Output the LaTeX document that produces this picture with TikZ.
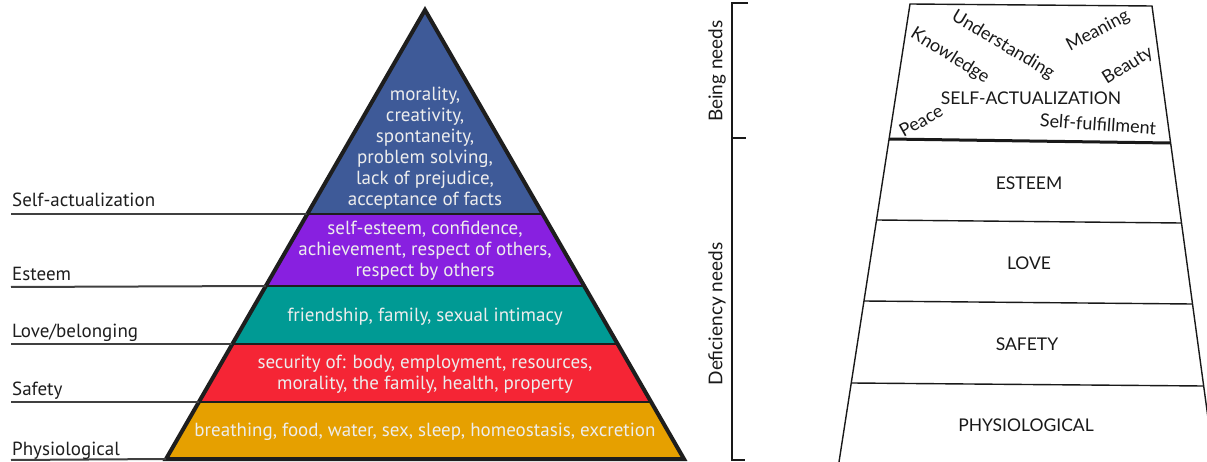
\documentclass[tikz,border=0pt]{standalone}
\usepackage{fontspec}
\setmainfont{PT Sans}
\newfontfamily\rfont{Lato}
\usetikzlibrary{calc}
\definecolor{cblue}{HTML}{3E5A98}
\definecolor{cpurple}{HTML}{8820E0}
\definecolor{cteal}{HTML}{009A94}
\definecolor{cred}{HTML}{F52535}
\definecolor{corange}{HTML}{E6A000}
\definecolor{ctext}{HTML}{EDEDED}
\definecolor{cdark}{HTML}{1E1E1E}
\begin{document}
\begin{tikzpicture}[x=1pt,y=-1pt,
  bandline/.style={draw=cdark, line width=1.6pt},
  outline/.style={draw=cdark, line width=4pt, line join=miter},
  bandtext/.style={text=ctext, font=\fontsize{19}{21}\selectfont, align=center, inner sep=0pt},
  lvl/.style={font=\fontsize{19}{21}\selectfont, text=cdark, anchor=base west, inner sep=0pt},
  lvlline/.style={draw=cdark!85, line width=2pt},
  rline/.style={draw=black!90, line width=1.4pt},
  rcap/.style={font=\rfont\fontsize{17.5}{20}\selectfont, text=black!90, inner sep=0pt},
  rword/.style={font=\rfont\fontsize{18}{20}\selectfont, text=black!90, inner sep=0pt},
  side/.style={font=\rfont\fontsize{19}{21}\selectfont, text=black!90, inner sep=0pt, rotate=90}
]
\useasboundingbox (0,0) rectangle (1207,462);
\fill[white] (0,0) rectangle (1207,462);

% ---------- left pyramid ----------
\coordinate (apex) at (425,10);
\coordinate (l1) at (307.3,214); \coordinate (r1) at (542.7,214);
\coordinate (l2) at (265.8,286); \coordinate (r2) at (584.2,286);
\coordinate (l3) at (232.4,344); \coordinate (r3) at (617.6,344);
\coordinate (l4) at (198.9,402); \coordinate (r4) at (651.1,402);
\coordinate (l5) at (166,459);   \coordinate (r5) at (684,459);

\fill[cblue]   (apex) -- (r1) -- (l1) -- cycle;
\fill[cpurple] (l1) -- (r1) -- (r2) -- (l2) -- cycle;
\fill[cteal]   (l2) -- (r2) -- (r3) -- (l3) -- cycle;
\fill[cred]    (l3) -- (r3) -- (r4) -- (l4) -- cycle;
\fill[corange] (l4) -- (r4) -- (r5) -- (l5) -- cycle;
\draw[bandline] (l1) -- (r1);
\draw[bandline] (l2) -- (r2);
\draw[bandline] (l3) -- (r3);
\draw[bandline] (l4) -- (r4);
\draw[outline] (apex) -- (r5) -- (l5) -- cycle;

\node[bandtext] (t1) at (425,148) {morality,\\creativity,\\spontaneity,\\problem solving,\\lack of prejudice,\\acceptance of facts};
\node[bandtext] (t2) at (425,251) {self-esteem, confidence,\\achievement, respect of others,\\respect by others};
\node[bandtext] (t3) at (425,317) {friendship, family, sexual intimacy};
\node[bandtext] (t4) at (425,374) {security of: body, employment, resources,\\morality, the family, health, property};
\node[bandtext] (t5) at (425,432) {breathing, food, water, sex, sleep, homeostasis, excretion};

% level labels and lines
\coordinate (s1) at (11,214);
\coordinate (s2) at (11,287);
\coordinate (s3) at (11,344);
\coordinate (s4) at (11,402);
\coordinate (s5) at (11,460);
\draw[lvlline] (s1) -- (l1);
\draw[lvlline] (s2) -- (l2);
\draw[lvlline] (s3) -- (l3);
\draw[lvlline] (s4) -- (l4);
\draw[lvlline] (s5) -- (l5);
\node[lvl] (n1) at (12,207) {Self-actualization};
\node[lvl] (n2) at (12,281) {Esteem};
\node[lvl] (n3) at (12,337) {Love/belonging};
\node[lvl] (n4) at (12,395) {Safety};
\node[lvl] (n5) at (12,455) {Physiological};

% ---------- right trapezoid ----------
\coordinate (TL) at (910,4);  \coordinate (TR) at (1152,6);
\coordinate (BL) at (839,462); \coordinate (BR) at (1214,462);
\coordinate (a1) at (889,139); \coordinate (b1) at (1170,143);
\coordinate (a2) at (877,220); \coordinate (b2) at (1181,223);
\coordinate (a3) at (864,301); \coordinate (b3) at (1192,304);
\coordinate (a4) at (852,383); \coordinate (b4) at (1203,386);
\draw[rline] (BL) -- (TL) -- (TR) -- (BR);
\draw[rline, line width=3pt] (a1) -- (b1);
\draw[rline] (a2) -- (b2);
\draw[rline] (a3) -- (b3);
\draw[rline] (a4) -- (b4);

\node[rcap] (sa) at (1031,98) {SELF-ACTUALIZATION};
\node[rcap] (es) at (1029,183) {ESTEEM};
\node[rcap] (lo) at (1029,263) {LOVE};
\node[rcap] (sf) at (1027,344) {SAFETY};
\node[rcap] (ph) at (1026,425) {PHYSIOLOGICAL};

\node[rword, rotate=-31] (w1) at (1003,45) {Understanding};
\node[rword, rotate=-32] (w2) at (950,56) {Knowledge};
\node[rword, rotate=28]  (w3) at (1098,31) {Meaning};
\node[rword, rotate=32]  (w4) at (1128,66) {Beauty};
\node[rword, rotate=29]  (w5) at (921,121) {Peace};
\node[rword, rotate=-4]  (w6) at (1098,124) {Self-fulfillment};

% bracket
\coordinate (k1) at (732,3);
\coordinate (k2) at (732,138);
\coordinate (k3) at (732,460);
\draw[rline] (748,3) -- (k1) -- (k3) -- (745,460);
\draw[rline, line width=2.6pt] (k2) -- (746,138);
\node[side] (bn) at (717,71) {Being needs};
\node[side] (dn) at (717,314) {Deficiency needs};
\end{tikzpicture}
\end{document}
